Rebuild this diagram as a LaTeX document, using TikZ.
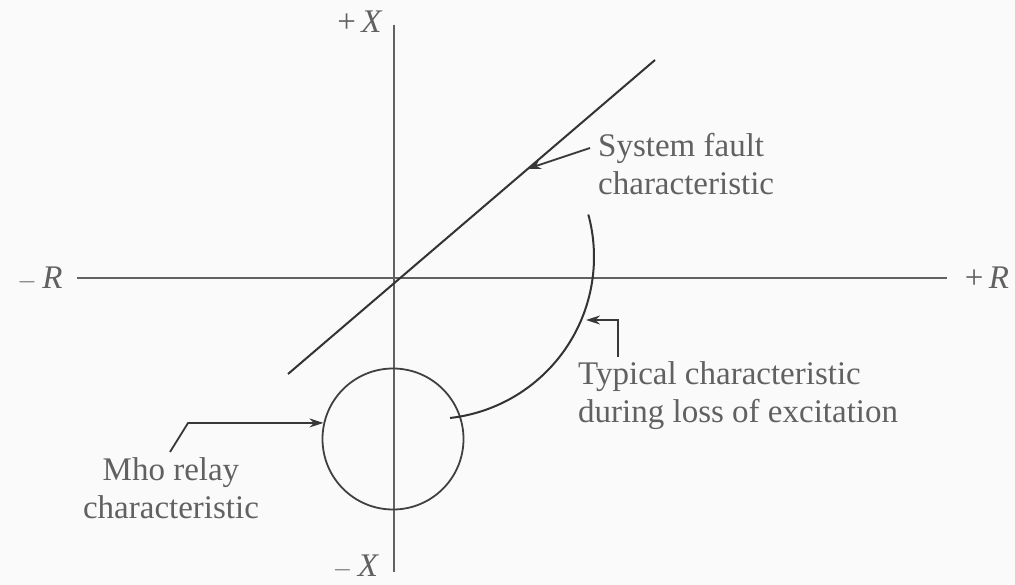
\documentclass[tikz,border=0pt]{standalone}
\usepackage{fontspec}
\setmainfont{Liberation Serif}
\usetikzlibrary{arrows.meta}
\begin{document}
\begin{tikzpicture}[x=1pt,y=-1pt,
  ln/.style={draw=black!80, line width=2pt},
  ax/.style={draw=black!62, line width=1.7pt},
  lbl/.style={inner sep=0pt, text=black!62, font=\fontsize{33}{38}\selectfont},
  arr/.style={draw=black!78, line width=1.8pt, -{Stealth[length=14pt,width=9pt]}}]
\useasboundingbox[fill=black!2] (0,0) rectangle (1015,585);
% axes
\coordinate (O) at (394,278);
\coordinate (rL) at (77,278);
\coordinate (rR) at (947,278);
\coordinate (xT) at (394,25);
\coordinate (xB) at (394,572);
\draw[ax] (rL) -- (rR);
\draw[ax] (xT) -- (xB);
\node[lbl, anchor=base] (pX) at (360,33) {+\,\textit{X}};
\node[lbl, anchor=base] (mX) at (356,576) {$-$\,\textit{X}};
\node[lbl, anchor=base] (mR) at (40,289) {$-$\,\textit{R}};
\node[lbl, anchor=base] (pR) at (987,289) {+\,\textit{R}};
% system fault line
\coordinate (f1) at (288,374);
\coordinate (f2) at (655,60);
\draw[ln] (f1) -- (f2);
\coordinate (fa) at (527,169);
\node[lbl, anchor=base west, align=left] (sf) at (598,195) {System fault\\characteristic};
\coordinate (st) at (590,148);
\draw[arr] (st) -- (fa);
% mho circle
\node[draw=black!75, line width=1.8pt, circle, minimum size=141pt, inner sep=0pt] (mho) at (393,439) {};
\node[lbl, anchor=base, align=center] (mt) at (171,518) {Mho relay\\characteristic};
\coordinate (m1) at (170,452);
\coordinate (m2) at (188,423);
\draw[arr] (m1) -- (m2) -- (mho.167);
% loss of excitation arc
\coordinate (lc) at (432,257);
\draw[ln] ([shift={(-83.6:162pt)}]lc) arc[start angle=-83.6, end angle=15.2, radius=162pt];
\coordinate (l0) at (618,357);
\coordinate (l1) at (618,320);
\coordinate (lh) at (586,320);
\node[lbl, anchor=base west, align=left] (lt) at (578,422) {Typical characteristic\\during loss of excitation};
\draw[arr] (l0) -- (l1) -- (lh);
\end{tikzpicture}
\end{document}
